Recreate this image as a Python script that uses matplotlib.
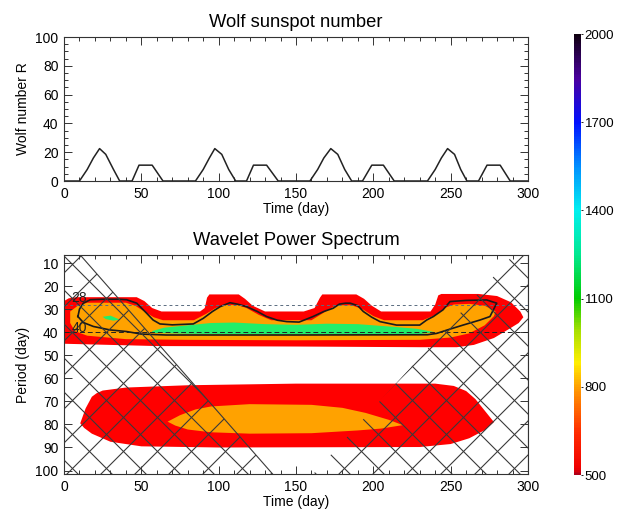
import matplotlib
matplotlib.use("Agg")
import matplotlib.pyplot as plt
from matplotlib.colors import LinearSegmentedColormap, Normalize
from matplotlib.cm import ScalarMappable
from matplotlib.collections import LineCollection
from matplotlib.ticker import MultipleLocator

plt.rcParams['font.family'] = ['Liberation Sans', 'DejaVu Sans']

# ---------------------------------------------------------------------------
# Wolf sunspot number
# ---------------------------------------------------------------------------
wolf_t = [0, 10, 15, 19, 23, 27, 32, 36,
          44, 48.5, 57, 64,
          85, 90, 94, 97.5, 102, 106.5, 111,
          118, 122.5, 131, 138.5,
          159, 164, 168, 172.5, 177, 181.5, 186,
          193, 199, 206.5, 213.5,
          235, 240, 244, 248, 252.5, 256.5, 260.5,
          268, 273.5, 282, 288.5,
          300]
wolf_r = [0, 0, 8, 16, 22.5, 18.5, 8, 0,
          0, 11, 11, 0,
          0, 8, 16, 22.5, 18.5, 8, 0,
          0, 11, 11, 0,
          0, 8, 16, 22.5, 18.5, 8, 0,
          0, 11, 11, 0,
          0, 8, 16, 22.5, 18.5, 8, 0,
          0, 11, 11, 0,
          0]

# ---------------------------------------------------------------------------
# Wavelet power: filled level regions (time, period)
# ---------------------------------------------------------------------------
# upper band, power > 500
band1_red_t = [0, 3, 8, 47, 52, 57, 63, 88, 91, 92.5, 94, 113, 117, 122, 130,
               155, 162, 165.5, 167, 189, 194, 199, 205, 237, 240, 242, 244,
               268, 280, 289, 295, 297, 294, 288, 278, 265, 254, 230, 150,
               60, 30, 0]
band1_red_p = [26.5, 25.3, 24.8, 24.8, 26.5, 29.5, 31, 31, 29.5, 25, 23.6,
               23.6, 25.5, 28.5, 31, 31, 29.5, 25, 23.6, 23.6, 25.5, 28.5,
               31, 31, 28, 24, 23.4, 23.4, 24.3, 27, 31, 33.5, 36, 38.5,
               42.5, 45.5, 46.5, 46.5, 46.2, 46, 45.5, 45]
# upper band, power > 650
band1_org_t = [4, 6, 9, 15, 40, 46, 52, 58, 64, 84, 92, 98, 104, 112, 118,
               126, 134, 160, 168, 174, 178, 186, 193, 200, 207, 232, 240,
               246, 252, 262, 272, 279, 278, 272, 262, 250, 230, 150, 80,
               40, 15, 7, 4]
band1_org_p = [31, 30, 28.5, 27.2, 27.2, 28.5, 31, 33.5, 34.8, 34.8, 32,
               29.5, 28.2, 28.2, 29.5, 32.5, 34.8, 34.8, 31.5, 29, 28.3,
               28.3, 30, 33, 34.8, 34.8, 32.5, 29.5, 28, 27.7, 28.5, 31,
               33, 37, 40.5, 42.3, 43.3, 43.5, 43.3, 43, 41.5, 39.5, 36]
# upper band, power > 1000
band1_grn_t = [57, 65, 80, 95, 110, 130, 150, 170, 190, 210, 228, 240, 230,
               150, 80, 57]
band1_grn_p = [39.5, 38, 37, 36, 35.8, 36.5, 36.8, 36.3, 36.5, 37.5, 38.5,
               40, 40.8, 41, 40.7, 40.3]
blob_grn_t = [25, 30, 36, 32, 27]
blob_grn_p = [33.3, 32.8, 34.5, 35, 34.3]

# lower band
band2_red_t = [10.5, 14, 18, 21, 25, 40, 80, 150, 240, 252, 260, 266, 272,
               278, 272, 262, 250, 230, 100, 50, 30, 18, 13]
band2_red_p = [79.5, 73, 68, 66.5, 65.3, 64, 63, 62.3, 62.3, 63.3, 65.5, 69,
               74, 79, 82.5, 86, 88.5, 89.8, 90, 89.5, 87.5, 84, 81.5]
band2_org_t = [67, 75, 85, 95, 120, 160, 180, 195, 210, 219, 205, 190, 160,
               120, 95, 80, 72]
band2_org_p = [78.8, 76, 73.5, 72.2, 71.2, 71.5, 72.8, 75, 78, 80.3, 81.8,
               82.6, 83.8, 84, 83.4, 82.2, 80.5]

# significance contour
sig_t = [9, 10, 12.5, 17, 25, 35, 40.5, 47, 53.5, 57.6, 62, 70, 83.6, 90,
         96, 101, 107.3, 112, 118, 125, 131, 138, 144, 152, 161, 168, 174,
         178, 182, 185, 190, 193.5, 199, 204.3, 215, 230, 234.5, 238.8, 245,
         249.6, 260, 273.3, 279.8, 275.4, 269, 258, 247.4, 241, 235, 150, 66,
         50, 40.5, 29.7, 19, 12.5, 9]
sig_p = [33.2, 30, 27.4, 25.9, 25.7, 25.7, 25.9, 27.4, 31.8, 34.7, 36.4,
         36.8, 36.4, 34, 31, 28.9, 27.2, 27.8, 28.9, 31, 33.2, 34.8, 35.4,
         35.6, 33.2, 31, 29.6, 27.8, 27.4, 27.4, 28.5, 31, 33.5, 35.4, 36.9,
         36.9, 34.7, 33.2, 30.3, 26.7, 26.2, 26, 27.4, 33.2, 34.7, 36.9,
         39.1, 40.5, 41.1, 41.2, 41.2, 40.8, 39.7, 39, 37.5, 35.8, 33.2]

# cone of influence (hatched outside)
coi_left_t = [0, 2, 146, 0]
coi_left_p = [0, 0, 110, 110]
coi_right_t = [299.4, 300, 300, 149.4]
coi_right_p = [0, 0, 110, 110]

ref_periods = [28, 40]

# colour bar
cb_levels = [500, 520, 640, 790, 880, 990, 1100, 1250, 1400, 1550, 1700,
             1850, 2000]
cb_colors = ['#b00018', '#f00000', '#ff2a00', '#ff9800', '#ffee00',
             '#a8e000', '#00cc00', '#00e890', '#00f0f0', '#0090ff',
             '#0010ff', '#4a00a0', '#100010']
cb_ticks = [500, 800, 1100, 1400, 1700, 2000]

RED = '#ff0000'
ORANGE = '#ffa200'
GREEN = '#22ee6a'
INK = '#222222'
HATCH = '#3a3a3a'

DPI = 100
W, H = 617, 514
fig = plt.figure(figsize=(W / DPI, H / DPI), dpi=DPI)
AX_W, AX2_H = 464, 219
ax1 = fig.add_axes([64 / W, 1 - 181 / H, AX_W / W, 144 / H])
ax2 = fig.add_axes([64 / W, 1 - 474 / H, AX_W / W, AX2_H / H])
cax = fig.add_axes([574 / W, 1 - 475 / H, 7 / W, 441 / H])

FS_TICK = 10
FS_TITLE = 13.2


def style_axes(ax):
    for s in ax.spines.values():
        s.set_linewidth(0.8)
        s.set_color('#333333')
    ax.tick_params(which='both', direction='in', top=True, right=True,
                   labelsize=FS_TICK, width=0.7, color='#333333', pad=4)
    ax.tick_params(which='major', length=6)
    ax.tick_params(which='minor', length=3)
    ax.xaxis.set_major_locator(MultipleLocator(50))
    ax.xaxis.set_minor_locator(MultipleLocator(10))


# ---- top panel ----
ax1.plot(wolf_t, wolf_r, color=INK, lw=1.1)
ax1.set_xlim(0, 300)
ax1.set_ylim(0, 100)
style_axes(ax1)
ax1.yaxis.set_major_locator(MultipleLocator(20))
ax1.yaxis.set_minor_locator(MultipleLocator(5))
ax1.set_title('Wolf sunspot number', fontsize=FS_TITLE, pad=7)
ax1.set_xlabel('Time (day)', fontsize=FS_TICK, labelpad=1)
ax1.set_ylabel('Wolf number R', fontsize=FS_TICK, labelpad=4)

# ---- wavelet panel ----
ax2.fill(band1_red_t, band1_red_p, color=RED, lw=0, zorder=1)
ax2.fill(band1_org_t, band1_org_p, color=ORANGE, lw=0, zorder=2)
ax2.fill(band1_grn_t, band1_grn_p, color=GREEN, lw=0, zorder=3)
ax2.fill(blob_grn_t, blob_grn_p, color=GREEN, lw=0, zorder=3)
ax2.fill(band2_red_t, band2_red_p, color=RED, lw=0, zorder=1)
ax2.fill(band2_org_t, band2_org_p, color=ORANGE, lw=0, zorder=2)

ax2.plot(sig_t, sig_p, color='#1a1a1a', lw=1.2, zorder=4)

ax2.axhline(ref_periods[0], color='#5a6c80', lw=0.7, ls=(0, (3, 3)),
            zorder=4)
ax2.axhline(ref_periods[1], color='#222222', lw=0.7, ls=(0, (5, 3)),
            zorder=4)
ax2.text(10, 25.2, str(ref_periods[0]), fontsize=FS_TICK, color=INK,
         ha='center', va='center', zorder=6)
ax2.text(10, 38.3, str(ref_periods[1]), fontsize=FS_TICK, color=INK,
         ha='center', va='center', zorder=6)

# cross-hatching outside the cone of influence: 45 degree lines
step = 34
segs = []
for c in range(-AX_W - AX2_H, AX_W + AX2_H, step):
    segs.append([((-AX2_H) / AX_W, (-AX2_H + c) / AX2_H),
                 ((AX_W + AX2_H) / AX_W, (AX_W + AX2_H + c) / AX2_H)])
    segs.append([((-AX2_H) / AX_W, (AX2_H + c + step / 2) / AX2_H),
                 ((AX_W + AX2_H) / AX_W,
                  (-AX_W - AX2_H + c + step / 2) / AX2_H)])

for ct, cp in [(coi_left_t, coi_left_p), (coi_right_t, coi_right_p)]:
    poly = ax2.fill(ct, cp, facecolor='none', edgecolor='none', lw=0)[0]
    lc = LineCollection(segs, colors=HATCH, linewidths=0.8,
                        transform=ax2.transAxes, zorder=5)
    ax2.add_collection(lc)
    lc.set_clip_path(poly)
    ax2.plot(ct[1:3], cp[1:3], color=HATCH, lw=0.8, zorder=5)

ax2.set_xlim(0, 300)
ax2.set_ylim(101.5, 6.5)
style_axes(ax2)
ax2.yaxis.set_major_locator(MultipleLocator(10))
ax2.yaxis.set_minor_locator(MultipleLocator(10))
ax2.set_title('Wavelet Power Spectrum', fontsize=FS_TITLE, pad=7)
ax2.set_xlabel('Time (day)', fontsize=FS_TICK, labelpad=1)
ax2.set_ylabel('Period (day)', fontsize=FS_TICK, labelpad=4)

# ---- colour bar ----
span = cb_levels[-1] - cb_levels[0]
cmap = LinearSegmentedColormap.from_list(
    'idl_rainbow',
    [((v - cb_levels[0]) / span, c) for v, c in zip(cb_levels, cb_colors)])
sm = ScalarMappable(norm=Normalize(cb_levels[0], cb_levels[-1]), cmap=cmap)
cb = fig.colorbar(sm, cax=cax, ticks=cb_ticks)
cb.outline.set_visible(False)
cax.tick_params(labelsize=9.5, length=1.5, width=0.6, pad=1)

fig.savefig('out.png', dpi=DPI)
